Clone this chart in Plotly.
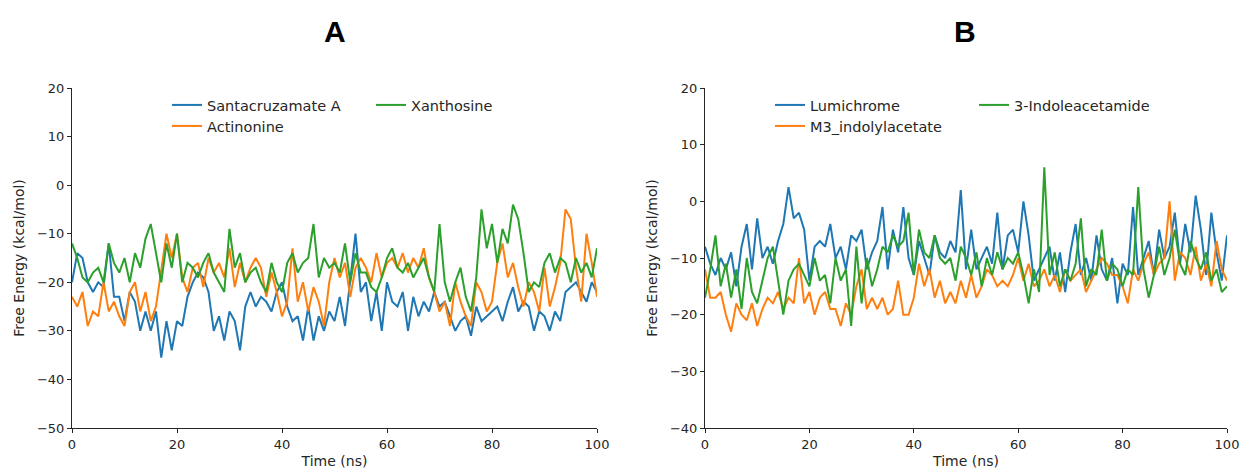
import plotly.graph_objects as go

time_ns = list(range(0, 101))

santacruzamate_a = [-20, -14, -15, -20, -22, -20, -21, -12, -23, -23, -28, -22, -24, -30, -26, -30, -26, -35.5, -28, -34,
                    -28, -29, -23, -20, -18, -19, -22, -30, -27, -32, -26, -28, -34, -25, -22, -25, -23, -24, -26, -22,
                    -20, -25, -28, -27, -32, -25, -32, -27, -30, -26, -28, -23, -29, -20, -10, -22, -20, -28, -22, -30,
                    -20, -24, -25, -22, -30, -23, -27, -24, -26, -22, -25, -24, -27, -30, -28, -27, -31, -25, -28, -27,
                    -26, -25, -28, -24, -21, -26, -24, -25, -30, -26, -27, -30, -26, -28, -22, -21, -20, -22, -24, -20, -22]
actinonine = [-23, -25, -22, -29, -26, -27, -20, -26, -24, -27, -29, -22, -20, -26, -22, -28, -25, -18, -10, -15,
              -10, -19, -22, -17, -16, -21, -15, -18, -16, -19, -13, -21, -16, -20, -17, -15, -17, -23, -18, -22,
              -27, -24, -13, -24, -20, -26, -21, -24, -29, -20, -15, -19, -16, -23, -17, -15, -17, -20, -14, -19,
              -16, -15, -17, -14, -18, -15, -17, -13, -19, -22, -26, -24, -29, -20, -24, -27, -29, -20, -22, -26,
              -24, -16, -12, -19, -16, -21, -25, -20, -22, -26, -17, -25, -21, -16, -5, -7, -17, -24, -10, -16, -23]
xanthosine = [-12, -15, -19, -20, -18, -17, -20, -12, -16, -18, -15, -20, -14, -17, -11, -8, -14, -20, -12, -17,
              -10, -20, -16, -17, -19, -16, -14, -18, -20, -22, -9, -17, -14, -20, -18, -17, -20, -22, -16, -20,
              -22, -16, -14, -18, -16, -15, -8, -19, -15, -17, -16, -18, -12, -20, -14, -18, -18, -21, -22, -19,
              -15, -13, -17, -18, -16, -19, -17, -15, -19, -22, -8, -20, -24, -20, -17, -23, -26, -19, -5, -13,
              -8, -16, -9, -12, -4, -7, -14, -22, -20, -21, -16, -14, -18, -15, -16, -20, -15, -18, -16, -19, -13]

lumichrome = [-8, -11, -13, -10, -12, -9, -15, -8, -4, -12, -3, -10, -8, -11, -7, -4, 2.5, -3, -2, -5,
              -14, -8, -7, -8, -4, -10, -8, -12, -6, -7, -5, -12, -9, -7, -1, -12, -5, -9, -1, -10,
              -13, -7, -10, -13, -6, -9, -10, -7, -9, 2, -12, -5, -12, -10, -8, -11, -2, -12, -6, -5,
              -9, 0, -6, -14, -12, -10, -8, -14, -9, -16, -9, -4, -13, -10, -14, -6, -12, -14, -10, -18,
              -11, -13, -1, -13, -10, -7, -13, -5, -10, -8, -2, -11, -4, -9, 1, -5, -13, -2, -9, -14, -6]
m3_indolylacetate = [-12, -17, -17, -16, -20, -23, -18, -20, -21, -18, -22, -19, -17, -18, -16, -19, -17, -18, -10, -18,
                     -16, -20, -17, -16, -19, -19, -22, -18, -20, -15, -12, -19, -17, -19, -17, -20, -19, -14, -20, -20,
                     -17, -11, -15, -12, -17, -14, -18, -16, -18, -14, -17, -13, -17, -15, -12, -13, -15, -14, -15, -13,
                     -10, -14, -11, -15, -14, -12, -15, -13, -16, -12, -14, -13, -12, -16, -14, -12, -10, -11, -13, -13,
                     -15, -18, -12, -14, -11, -9, -13, -11, -10, 0, -14, -9, -10, -13, -8, -14, -11, -15, -7, -12, -14]
indoleacetamide = [-17, -12, -6, -15, -11, -17, -12, -19, -10, -16, -18, -14, -10, -8, -14, -20, -14, -12, -11, -13,
                   -15, -10, -14, -13, -18, -10, -14, -12, -22, -8, -18, -10, -15, -12, -8, -9, -6, -8, -7, -2,
                   -13, -5, -9, -10, -6, -10, -11, -10, -14, -8, -10, -13, -9, -15, -10, -13, -9, -12, -10, -11,
                   -9, -13, -18, -12, -16, 6, -13, -9, -15, -12, -14, -11, -3, -15, -12, -13, -5, -14, -11, -12,
                   -15, -12, -13, 2.5, -12, -17, -13, -8, -13, -10, -5, -11, -13, -7, -10, -12, -9, -14, -12, -16, -15]

blue, orange, green = "#1f77b4", "#ff7f0e", "#2ca02c"
W, H = 1240, 471

fig = go.Figure()
# panel A
fig.add_trace(go.Scatter(x=time_ns, y=santacruzamate_a, name="Santacruzamate A", mode="lines",
                         line=dict(color=blue, width=2), xaxis="x", yaxis="y", legend="legend"))
fig.add_trace(go.Scatter(x=time_ns, y=actinonine, name="Actinonine", mode="lines",
                         line=dict(color=orange, width=2), xaxis="x", yaxis="y", legend="legend2"))
fig.add_trace(go.Scatter(x=time_ns, y=xanthosine, name="Xanthosine", mode="lines",
                         line=dict(color=green, width=2), xaxis="x", yaxis="y", legend="legend"))
# panel B
fig.add_trace(go.Scatter(x=time_ns, y=lumichrome, name="Lumichrome", mode="lines",
                         line=dict(color=blue, width=2), xaxis="x2", yaxis="y2", legend="legend3"))
fig.add_trace(go.Scatter(x=time_ns, y=m3_indolylacetate, name="M3_indolylacetate", mode="lines",
                         line=dict(color=orange, width=2), xaxis="x2", yaxis="y2", legend="legend4"))
fig.add_trace(go.Scatter(x=time_ns, y=indoleacetamide, name="3-Indoleacetamide", mode="lines",
                         line=dict(color=green, width=2), xaxis="x2", yaxis="y2", legend="legend3"))

def px_x(p):
    return p / W

def px_y(p):
    return 1 - p / H

tick_font = dict(family="DejaVu Sans", size=13, color="#262626")
title_font = dict(family="DejaVu Sans", size=14, color="#262626")

axis_common = dict(showline=True, linecolor="#262626", linewidth=1, ticks="outside", ticklen=4,
                   tickwidth=1, tickcolor="#262626", showgrid=False, zeroline=False,
                   tickfont=tick_font, automargin=False)

y_dom = [px_y(428), px_y(88)]

legend_common = dict(orientation="h", font=dict(family="DejaVu Sans", size=14.5, color="#262626"),
                     bgcolor="rgba(0,0,0,0)", borderwidth=0, xanchor="left", yanchor="middle",
                     entrywidth=159, entrywidthmode="pixels", itemclick=False, itemdoubleclick=False)

fig.update_layout(
    width=W, height=H,
    margin=dict(l=0, r=0, t=0, b=0),
    paper_bgcolor="white", plot_bgcolor="white",
    xaxis=dict(domain=[px_x(72), px_x(597)], range=[0, 100], tickvals=[0, 20, 40, 60, 80, 100],
               anchor="y", title=dict(text="Time (ns)", font=title_font, standoff=5), **axis_common),
    yaxis=dict(domain=y_dom, range=[-50, 20], tickvals=[-50, -40, -30, -20, -10, 0, 10, 20],
               anchor="x", title=dict(text="Free Energy (kcal/mol)", font=title_font, standoff=9), **axis_common),
    xaxis2=dict(domain=[px_x(705), px_x(1227)], range=[0, 100], tickvals=[0, 20, 40, 60, 80, 100],
                anchor="y2", title=dict(text="Time (ns)", font=title_font, standoff=5), **axis_common),
    yaxis2=dict(domain=y_dom, range=[-40, 20], tickvals=[-40, -30, -20, -10, 0, 10, 20],
                anchor="x2", title=dict(text="Free Energy (kcal/mol)", font=title_font, standoff=9), **axis_common),
    legend=dict(x=px_x(167), y=px_y(105), **legend_common),
    legend2=dict(x=px_x(167), y=px_y(126), **legend_common),
    legend3=dict(x=px_x(770), y=px_y(105), **legend_common),
    legend4=dict(x=px_x(770), y=px_y(126), **legend_common),
    annotations=[
        dict(text="<b>A</b>", x=px_x(335), y=px_y(32), xref="paper", yref="paper", showarrow=False,
             xanchor="center", yanchor="middle", font=dict(family="Liberation Sans", size=30, color="black")),
        dict(text="<b>B</b>", x=px_x(965), y=px_y(32), xref="paper", yref="paper", showarrow=False,
             xanchor="center", yanchor="middle", font=dict(family="Liberation Sans", size=30, color="black")),
    ],
)

fig.write_html("out.html")
